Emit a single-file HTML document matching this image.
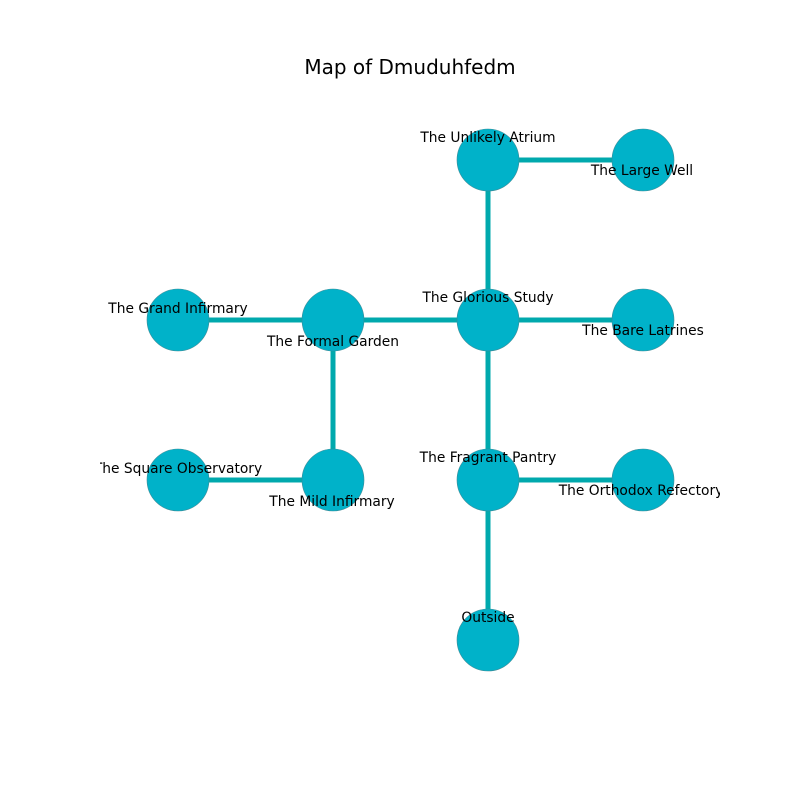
<!DOCTYPE html>
<html><head><meta charset="utf-8"><style>
html,body{margin:0;padding:0;background:#fff;}
svg{display:block;}
text{font-family:"DejaVu Sans","Liberation Sans",sans-serif;font-size:13.8px;fill:#000;text-anchor:middle;dominant-baseline:central;}
</style></head><body>
<svg width="800" height="800" viewBox="0 0 800 800">
<defs><clipPath id="c"><rect x="100" y="96" width="620" height="608"/></clipPath></defs>
<text x="410" y="67" style="font-size:20px">Map of Dmuduhfedm</text>
<g clip-path="url(#c)">
<g stroke="#00a9ad" stroke-width="5">
<line x1="488" y1="160" x2="643" y2="160"/>
<line x1="488" y1="160" x2="488" y2="640"/>
<line x1="178" y1="320" x2="643" y2="320"/>
<line x1="333" y1="320" x2="333" y2="480"/>
<line x1="178" y1="480" x2="333" y2="480"/>
<line x1="488" y1="480" x2="643" y2="480"/>
</g>
<g fill="#00b2c9" stroke="#3a8a96" stroke-width="0.6">
<circle cx="488" cy="160" r="31"/><circle cx="643" cy="160" r="31"/>
<circle cx="178" cy="320" r="31"/><circle cx="333" cy="320" r="31"/>
<circle cx="488" cy="320" r="31"/><circle cx="643" cy="320" r="31"/>
<circle cx="178" cy="480" r="31"/><circle cx="333" cy="480" r="31"/>
<circle cx="488" cy="480" r="31"/><circle cx="643" cy="480" r="31"/>
<circle cx="488" cy="640" r="31"/>
</g>
<text x="488" y="138">The Unlikely Atrium</text>
<text x="642" y="171">The Large Well</text>
<text x="178" y="309">The Grand Infirmary</text>
<text x="333" y="342">The Formal Garden</text>
<text x="488" y="298">The Glorious Study</text>
<text x="643" y="331">The Bare Latrines</text>
<text x="178" y="469">The Square Observatory</text>
<text x="332" y="502">The Mild Infirmary</text>
<text x="488" y="458">The Fragrant Pantry</text>
<text x="641" y="491">The Orthodox Refectory</text>
<text x="488" y="618">Outside</text>
</g>
</svg>
</body></html>
